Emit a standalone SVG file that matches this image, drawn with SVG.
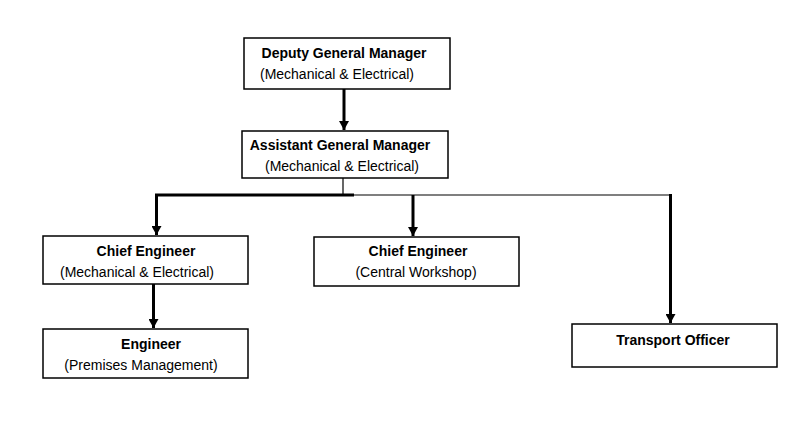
<svg xmlns="http://www.w3.org/2000/svg" width="785" height="434" viewBox="0 0 785 434">
<style>
.box{fill:#fff;stroke:#000;stroke-width:1.5}
.t{font-family:"Liberation Sans",Arial,sans-serif;font-size:14px;font-weight:bold;fill:#000;text-anchor:middle}
.s{font-family:"Liberation Sans",Arial,sans-serif;font-size:14px;fill:#000;text-anchor:middle}
.thick{stroke:#000;stroke-width:3;fill:none}
.thin{stroke:#000;stroke-width:1.2;fill:none}
</style>
<defs>
<marker id="ah" markerUnits="userSpaceOnUse" markerWidth="9" markerHeight="10" refX="9" refY="5" orient="auto" viewBox="0 0 9 10">
<path d="M0,0 L9,5 L0,10 Z" fill="#000"/>
</marker>
</defs>
<rect width="785" height="434" fill="#fff"/>
<g id="connectors">
<line class="thick" x1="344" y1="89" x2="344" y2="130" marker-end="url(#ah)"/>
<line class="thin" x1="343" y1="178" x2="343" y2="195"/>
<line class="thick" x1="155" y1="195" x2="354" y2="195"/>
<line class="thin" x1="354" y1="195" x2="671" y2="195"/>
<line class="thick" x1="156.5" y1="195" x2="156.5" y2="235" marker-end="url(#ah)"/>
<line class="thick" x1="413" y1="195" x2="413" y2="236" marker-end="url(#ah)"/>
<line class="thick" x1="670.5" y1="194" x2="670.5" y2="323" marker-end="url(#ah)"/>
<line class="thick" x1="153.5" y1="284" x2="153.5" y2="328" marker-end="url(#ah)"/>
</g>
<g id="dgm">
<rect class="box" x="244" y="38" width="206" height="51"/>
<text class="t" x="344" y="58">Deputy General Manager</text>
<text class="s" x="337" y="79">(Mechanical &amp; Electrical)</text>
</g>
<g id="agm">
<rect class="box" x="242" y="131" width="206" height="47"/>
<text class="t" x="340" y="150">Assistant General Manager</text>
<text class="s" x="342" y="171">(Mechanical &amp; Electrical)</text>
</g>
<g id="ce-me">
<rect class="box" x="43" y="236" width="205" height="48"/>
<text class="t" x="146" y="256">Chief Engineer</text>
<text class="s" x="137" y="277">(Mechanical &amp; Electrical)</text>
</g>
<g id="ce-cw">
<rect class="box" x="314" y="237" width="205" height="49"/>
<text class="t" x="418" y="256">Chief Engineer</text>
<text class="s" x="416" y="277">(Central Workshop)</text>
</g>
<g id="eng">
<rect class="box" x="43" y="329" width="205" height="49"/>
<text class="t" x="151" y="349">Engineer</text>
<text class="s" x="141" y="370">(Premises Management)</text>
</g>
<g id="transport">
<rect class="box" x="572" y="324" width="205" height="43"/>
<text class="t" x="673" y="345">Transport Officer</text>
</g>
</svg>
